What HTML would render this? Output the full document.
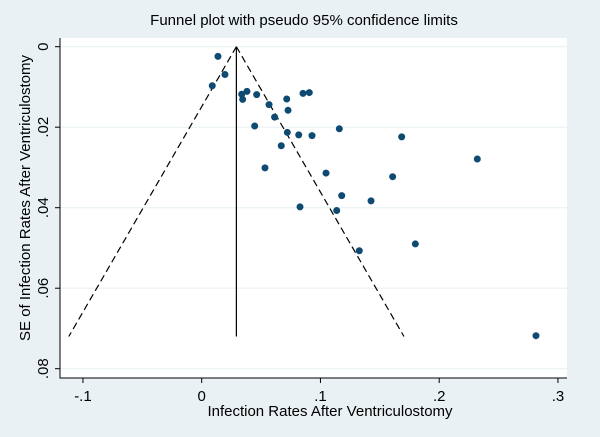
<!DOCTYPE html>
<html><head><meta charset="utf-8"><style>
body{margin:0;background:#e9f1f4;}
svg{display:block;font-family:"Liberation Sans",Arial,sans-serif;}
</style></head><body>
<svg width="600" height="437" viewBox="0 0 600 437">
<rect x="0" y="0" width="600" height="437" fill="#e9f1f4"/>
<rect x="60" y="38" width="507" height="340" fill="#ffffff"/>
<text x="304" y="25" font-size="15" text-anchor="middle" fill="#000">Funnel plot with pseudo 95% confidence limits</text>
<g id="grid"></g><g id="axes"></g><g id="funnel"></g><g id="points"></g>
<text x="330" y="416" font-size="15" text-anchor="middle">Infection Rates After Ventriculostomy</text>
<text transform="translate(30,198) rotate(-90)" font-size="15" text-anchor="middle">SE of Infection Rates After Ventriculostomy</text>
</svg>
<script>
const xTicks=[-0.1,0,0.1,0.2,0.3];
const xTickLabels=["-.1","0",".1",".2",".3"];
const yTicks=[0,0.02,0.04,0.06,0.08];
const yTickLabels=["0",".02",".04",".06",".08"];
const effects=[.0137,.0196,.0089,.0337,.0345,.0381,.0463,.0567,.0614,.0446,.0716,.0727,.0853,.0906,.0721,.0817,.0929,.0670,.1159,.1684,.0533,.1047,.1608,.2321,.1179,.1426,.0828,.1137,.1799,.1327,.2815];
const ses=[.0024,.0069,.0097,.0118,.0131,.0111,.0119,.0144,.0175,.0197,.0130,.0158,.0116,.0114,.0213,.0219,.0221,.0246,.0204,.0224,.0301,.0314,.0323,.0279,.0370,.0383,.0398,.0407,.0490,.0507,.0718];
const pooled=[0.0292];
const maxSE=[0.072];
const NS="http://www.w3.org/2000/svg";
const X=v=>201.7+v*1187.5;
const Y=v=>46.7+v*4025;
function mk(tag,attrs,parent){const e=document.createElementNS(NS,tag);for(const k in attrs)e.setAttribute(k,attrs[k]);document.getElementById(parent).appendChild(e);return e;}
yTicks.forEach((t,i)=>{
 const g=mk('line',{x1:60,x2:567,y1:Y(t),y2:Y(t),stroke:'#eaf2f3','stroke-width':1.2},'grid');
 
 
 const tk=mk('line',{x1:55,x2:60,y1:Y(t),y2:Y(t),stroke:'#000'},'axes');
 
 
 const tx=mk('text',{transform:`translate(48,${Y(t)}) rotate(-90)`,'font-size':15,'text-anchor':'middle'},'axes');
 tx.textContent=yTickLabels[i];
 
 
});
xTicks.forEach((t,i)=>{
 const tk=mk('line',{x1:X(t),x2:X(t),y1:378,y2:383,stroke:'#000'},'axes');
 
 
 const tx=mk('text',{x:X(t),y:401,'font-size':15,'text-anchor':'middle'},'axes');
 tx.textContent=xTickLabels[i];
 
 
});
const ax=mk('path',{d:'M60 38 V378 H567',fill:'none',stroke:'#000','stroke-width':1},'axes');


const p=pooled[0],m=maxSE[0];
const l1=mk('line',{x1:X(p),y1:Y(0),x2:X(p-1.96*m),y2:Y(m),stroke:'#000','stroke-dasharray':'7,4','stroke-width':1.2},'funnel');


const l2=mk('line',{x1:X(p),y1:Y(0),x2:X(p+1.96*m),y2:Y(m),stroke:'#000','stroke-dasharray':'7,4','stroke-width':1.2},'funnel');


const l3=mk('line',{x1:X(p),y1:Y(0),x2:X(p),y2:Y(m),stroke:'#000','stroke-width':1.2},'funnel');


effects.forEach((e,i)=>{
 const c=mk('circle',{cx:X(e),cy:Y(ses[i]),r:3.5,fill:'#0f4a72'},'points');
 
 
});
</script>
</body></html>
